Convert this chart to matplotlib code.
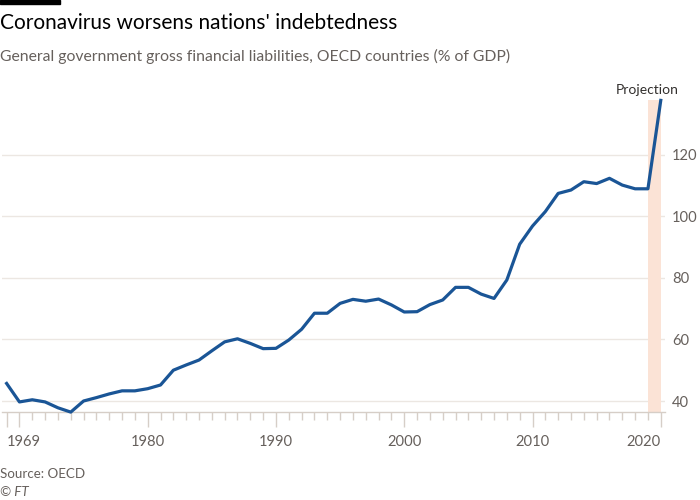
import matplotlib
matplotlib.use("Agg")
import matplotlib.pyplot as plt
from matplotlib.ticker import FixedLocator

years = list(range(1969, 2021))
debt = [45.7, 39.7, 40.4, 39.7, 37.8, 36.4, 40.0, 41.1, 42.3, 43.3,
        43.3, 44.0, 45.2, 50.0, 51.7, 53.3, 56.3, 59.2, 60.2, 58.7,
        57.0, 57.1, 59.8, 63.3, 68.5, 68.5, 71.7, 73.0, 72.4, 73.1,
        71.2, 68.9, 69.0, 71.3, 72.8, 76.9, 76.9, 74.7, 73.3, 79.3,
        90.9, 96.8, 101.5, 107.4, 108.5, 111.2, 110.6, 112.3, 110.1, 108.9,
        108.9, 137.6]
projection_span = (2019, 2020)
yticks = [40, 60, 80, 100, 120]
xtick_labels = ["1969", "1980", "1990", "2000", "2010", "2020"]

plt.rcParams['font.family'] = ['Lato', 'DejaVu Sans']

fig = plt.figure(figsize=(7, 5), dpi=100)
x0, x1 = 2 / 700, 665 / 700
yb, yt = (500 - 412.4) / 500, (500 - 100.4) / 500
ax = fig.add_axes([x0, yb, x1 - x0, yt - yb])

ax.set_xlim(1968.64, 2020.33)
ax.set_ylim(min(debt) - 0.1, max(debt))

ax.axvspan(*projection_span, color='#fbe3d6', zorder=1, lw=0)
for v in yticks:
    ax.axhline(v, color='#ece7e2', lw=1, zorder=0)
ax.plot(years, debt, color='#1a5596', lw=2.3, zorder=3, solid_joinstyle='round', clip_on=False)

for s in ['top', 'left', 'right']:
    ax.spines[s].set_visible(False)
ax.spines['bottom'].set_color('#d6cec7')
ax.spines['bottom'].set_linewidth(1)

ax.yaxis.tick_right()
ax.set_yticks(yticks)
ax.tick_params(axis='y', length=0, pad=5, labelsize=10.6, labelcolor='#66605c')

major = sorted([int(t) for t in xtick_labels] + [1970])
ax.xaxis.set_major_locator(FixedLocator(major))
ax.set_xticklabels([str(m) if str(m) in xtick_labels else "" for m in major])
ax.xaxis.set_minor_locator(FixedLocator(years))
ax.tick_params(axis='x', which='major', length=11, color='#d6cec7', width=1, labelsize=10.6, labelcolor='#66605c', pad=5)
ax.tick_params(axis='x', which='minor', length=6, color='#d6cec7', width=1)
for lab in ax.get_xticklabels():
    if lab.get_text() == "1969":
        lab.set_horizontalalignment('left')
    elif lab.get_text() == "2020":
        lab.set_horizontalalignment('right')

fig.text(647 / 700, 1 - 90.5 / 500, "Projection", ha='center', va='center', fontsize=10, color='#33302e')

fig.patches.append(plt.Rectangle((0, 1 - 4 / 500), 60 / 700, 4 / 500, transform=fig.transFigure, color='black'))
fig.text(0, 1 - 23 / 500, "Coronavirus worsens nations' indebtedness", ha='left', va='center', fontsize=15, color='#000000')
fig.text(0, 1 - 56 / 500, "General government gross financial liabilities, OECD countries (% of GDP)", ha='left', va='center', fontsize=11.3, color='#66605c')
fig.text(0, 1 - 474 / 500, "Source: OECD", ha='left', va='center', fontsize=9.6, color='#66605c')
fig.text(0, 1 - 492 / 500, "© FT", ha='left', va='center', fontsize=9.6, color='#66605c', style='italic')

fig.savefig("out.png", dpi=100)
